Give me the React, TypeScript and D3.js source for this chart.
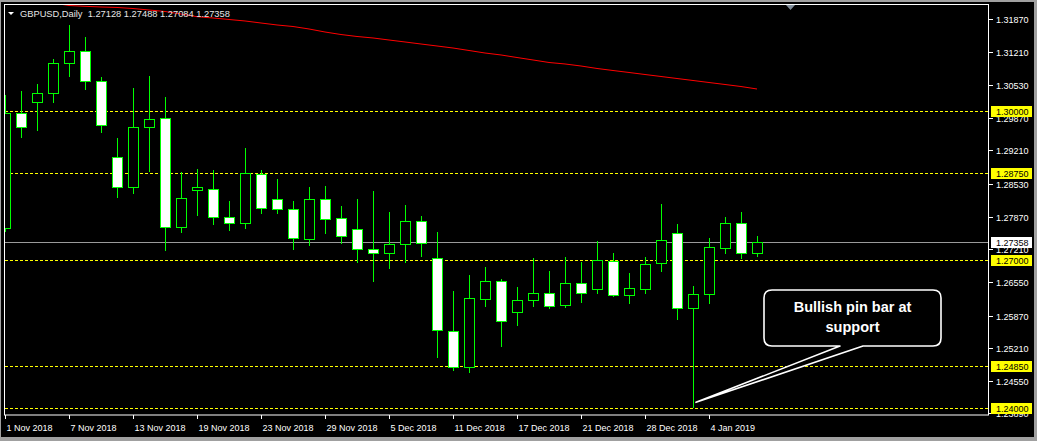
import React from "react";
import * as d3 from "d3";

const symbolTitle = "GBPUSD,Daily";
const lastQuote = ["1.27128", "1.27488", "1.27084", "1.27358"];

const dates = [
  "2018-11-01", "2018-11-02", "2018-11-05", "2018-11-06", "2018-11-07", "2018-11-08", "2018-11-09",
  "2018-11-12", "2018-11-13", "2018-11-14", "2018-11-15", "2018-11-16", "2018-11-19", "2018-11-20",
  "2018-11-21", "2018-11-22", "2018-11-23", "2018-11-26", "2018-11-27", "2018-11-28", "2018-11-29",
  "2018-11-30", "2018-12-03", "2018-12-04", "2018-12-05", "2018-12-06", "2018-12-07", "2018-12-10",
  "2018-12-11", "2018-12-12", "2018-12-13", "2018-12-14", "2018-12-17", "2018-12-18", "2018-12-19",
  "2018-12-20", "2018-12-21", "2018-12-24", "2018-12-26", "2018-12-27", "2018-12-28", "2018-12-31",
  "2019-01-02", "2019-01-03", "2019-01-04", "2019-01-07", "2019-01-08", "2019-01-09",
];

const opens = [
  1.27642, 1.29962, 1.30197, 1.30367, 1.30974, 1.31229, 1.3061, 1.29072, 1.28465, 1.29691,
  1.29861, 1.27668, 1.28417, 1.28425, 1.27858, 1.27737, 1.28728, 1.28222, 1.2802, 1.27413,
  1.28222, 1.27838, 1.27615, 1.27211, 1.2713, 1.27312, 1.27783, 1.27029, 1.25558, 1.24824,
  1.26212, 1.2657, 1.25948, 1.26179, 1.26321, 1.26078, 1.26523, 1.26414, 1.26968, 1.26292,
  1.26402, 1.26928, 1.27535, 1.26017, 1.263, 1.27231, 1.27737, 1.27128,
];
const highs = [
  1.30332, 1.30413, 1.30555, 1.31061, 1.31749, 1.31506, 1.3069, 1.29456, 1.30468, 1.30717,
  1.30292, 1.28769, 1.28835, 1.28815, 1.28188, 1.29254, 1.28815, 1.28633, 1.28188, 1.28477,
  1.28498, 1.28087, 1.28228, 1.2839, 1.27965, 1.28107, 1.27885, 1.27555, 1.26373, 1.26691,
  1.26859, 1.2661, 1.26442, 1.27029, 1.26772, 1.27049, 1.26948, 1.27379, 1.2713, 1.26725,
  1.27055, 1.28127, 1.27723, 1.26468, 1.27433, 1.27858, 1.27959, 1.27488,
];
const lows = [
  1.27581, 1.29489, 1.29624, 1.30197, 1.30717, 1.30448, 1.29578, 1.28263, 1.28356, 1.28801,
  1.27197, 1.27567, 1.27905, 1.27723, 1.27601, 1.27648, 1.27951, 1.27939, 1.27223, 1.27304,
  1.27534, 1.27332, 1.2696, 1.2657, 1.26833, 1.2696, 1.27081, 1.25038, 1.24769, 1.24735,
  1.26064, 1.25261, 1.25679, 1.26064, 1.26029, 1.2605, 1.26151, 1.26321, 1.26266, 1.26131,
  1.26321, 1.26778, 1.25795, 1.24014, 1.26131, 1.2713, 1.27041, 1.27084,
];
const closes = [
  1.29968, 1.29675, 1.30367, 1.30974, 1.31229, 1.30616, 1.29719, 1.28465, 1.29679, 1.29841,
  1.27668, 1.28243, 1.28465, 1.27858, 1.27737, 1.28748, 1.2804, 1.2802, 1.27433, 1.28222,
  1.27818, 1.2748, 1.27211, 1.2713, 1.27312, 1.27783, 1.27332, 1.25572, 1.24836, 1.2622,
  1.2657, 1.25766, 1.26185, 1.26321, 1.2607, 1.26523, 1.26321, 1.26988, 1.26292, 1.26422,
  1.26907, 1.27393, 1.26017, 1.263, 1.27251, 1.27737, 1.2713, 1.27358,
];

// moving average (red line)
const maValues: (number | null)[] = [
  null, null, null, 1.32194, 1.32143, 1.32127, 1.32113, 1.32103, 1.32082, 1.32052,
  1.32022, 1.31971, 1.31917, 1.3189, 1.3186, 1.3183, 1.31789, 1.31749, 1.31718, 1.31668,
  1.31607, 1.31556, 1.31516, 1.31486, 1.31445, 1.31405, 1.31364, 1.31324, 1.31283, 1.31233,
  1.31182, 1.31142, 1.31091, 1.31041, 1.3099, 1.3096, 1.30919, 1.30869, 1.30828, 1.30788,
  1.30747, 1.30707, 1.30666, 1.30626, 1.30585, 1.30545, 1.30504, 1.30454,
];

const priceTicks = [
  1.3187, 1.3121, 1.3053, 1.2987, 1.2921, 1.2853, 1.2787, 1.2721, 1.2655, 1.2587, 1.2521, 1.2455, 1.2389,
];
const levelLines = [1.3, 1.2875, 1.27, 1.2485, 1.24];
const currentPrice = 1.27358;
const labelEvery = 4;
const noteLines = ["Bullish pin bar at", "support"];

const W = 1037;
const H = 441;
const plotL = 5;
const plotR = 988;
const plotT = 5;
const plotB = 414;

const FONT = "'Liberation Sans', Arial, sans-serif";

export default function App() {
  const parse = d3.timeParse("%Y-%m-%d");
  const fmt = d3.timeFormat("%-d %b %Y");
  const x = d3.scalePoint<string>().domain(dates).range([5, 5 + 16 * (dates.length - 1)]);
  const y = d3.scaleLinear().domain([1.24, 1.3187]).range([408, 19]);
  const ry = (v: number) => Math.round(y(v));

  const maLine = d3
    .line<number | null>()
    .defined((d) => d !== null)
    .x((_, i) => x(dates[i]) as number)
    .y((d) => y(d as number));

  const pinIdx = 43;
  const tipX = (x(dates[pinIdx]) as number) + 3;
  const tipY = y(lows[pinIdx]) - 5;
  const bL = 764, bR = 941, bT = 290, bB = 346, r = 8;
  const callout = `M${bL + r},${bT} H${bR - r} Q${bR},${bT} ${bR},${bT + r} V${bB - r} Q${bR},${bB} ${bR - r},${bB} H863 L${tipX},${tipY} L840,${bB} H${bL + r} Q${bL},${bB} ${bL},${bB - r} V${bT + r} Q${bL},${bT} ${bL + r},${bT} Z`;

  return (
    <svg
      width={W}
      height={H}
      style={{ position: "absolute", left: 0, top: 0, display: "block" }}
      fontFamily={FONT}
    >
      <defs>
        <clipPath id="plot">
          <rect x={plotL} y={plotT} width={plotR - plotL} height={plotB - plotT} />
        </clipPath>
      </defs>
      <rect x={0} y={0} width={W} height={H} fill="#a0a0a0" />
      <rect x={1} y={2} width={1033} height={435} fill="#000" />

      <g clipPath="url(#plot)">
        {levelLines.map((p) => (
          <line
            key={p}
            x1={plotL}
            x2={plotR}
            y1={ry(p) + 0.5}
            y2={ry(p) + 0.5}
            stroke="#ffff00"
            strokeWidth={1}
            strokeDasharray="3,2"
          />
        ))}
        <line x1={plotL} x2={plotR} y1={ry(currentPrice) + 0.5} y2={ry(currentPrice) + 0.5} stroke="#9a9a9a" />
        <path d={maLine(maValues) || ""} fill="none" stroke="#ff0000" strokeWidth={1} />

        {dates.map((d, i) => {
          const cx = Math.round(x(d) as number);
          const o = opens[i], c = closes[i];
          const top = ry(Math.max(o, c));
          const bot = Math.max(ry(Math.min(o, c)), top + 1);
          const bull = c >= o;
          return (
            <g key={d}>
              <line x1={cx + 0.5} x2={cx + 0.5} y1={ry(highs[i])} y2={ry(lows[i]) + 1} stroke="#00ff00" />
              <rect
                x={cx - 4.5}
                y={top + 0.5}
                width={10}
                height={bot - top}
                fill={bull ? "#000" : "#fff"}
                stroke="#00ff00"
                strokeWidth={1}
              />
            </g>
          );
        })}
      </g>

      {/* frame */}
      <rect x={4.5} y={4.5} width={plotR - 4 + 0.5 - 0.5} height={plotB - 4 + 0.5} fill="none" stroke="#fff" />

      {/* shift marker */}
      <path d="M786,5 L795,5 L790.5,10 Z" fill="#7f8c99" />

      {/* title */}
      <path d="M8,12 L14,12 L11,15 Z" fill="#fff" />
      <text x={20} y={16.5} fill="#e6e6e6" fontSize={9.3} style={{ whiteSpace: "pre" }}>
        {`${symbolTitle}  ${lastQuote.join(" ")}`}
      </text>

      {/* price axis */}
      {priceTicks.map((p) => (
        <g key={p}>
          <line x1={989} x2={993} y1={ry(p) + 0.5} y2={ry(p) + 0.5} stroke="#fff" />
          <text x={996} y={ry(p) + 0.5} dy="0.35em" fill="#fff" fontSize={9}>
            {p.toFixed(5)}
          </text>
        </g>
      ))}
      {levelLines.map((p) => (
        <g key={"lbl" + p}>
          <rect x={991} y={ry(p) - 5} width={41} height={11} fill="#ffff00" />
          <text x={996} y={ry(p) + 0.5} dy="0.35em" fill="#000" fontSize={9}>
            {p.toFixed(5)}
          </text>
        </g>
      ))}
      <rect x={991} y={ry(currentPrice) - 5} width={41} height={11} fill="#fff" />
      <text x={996} y={ry(currentPrice) + 0.5} dy="0.35em" fill="#000" fontSize={9}>
        {currentPrice.toFixed(5)}
      </text>

      {/* time axis */}
      {dates.map((d, i) =>
        i % labelEvery === 0 ? (
          <g key={"t" + d}>
            <line
              x1={(x(d) as number) + 0.5}
              x2={(x(d) as number) + 0.5}
              y1={415}
              y2={419}
              stroke="#fff"
            />
            <text x={(x(d) as number) + 1.5} y={431} fill="#fff" fontSize={9}>
              {fmt(parse(d) as Date)}
            </text>
          </g>
        ) : null
      )}

      {/* annotation */}
      <path d={callout} fill="#000" stroke="#fff" strokeWidth={1.6} strokeLinejoin="round" />
      {noteLines.map((t, i) => (
        <text
          key={t}
          x={852.5}
          y={312 + i * 19.5}
          textAnchor="middle"
          fill="#fff"
          fontSize={14.5}
          fontWeight="bold"
        >
          {t}
        </text>
      ))}
    </svg>
  );
}
